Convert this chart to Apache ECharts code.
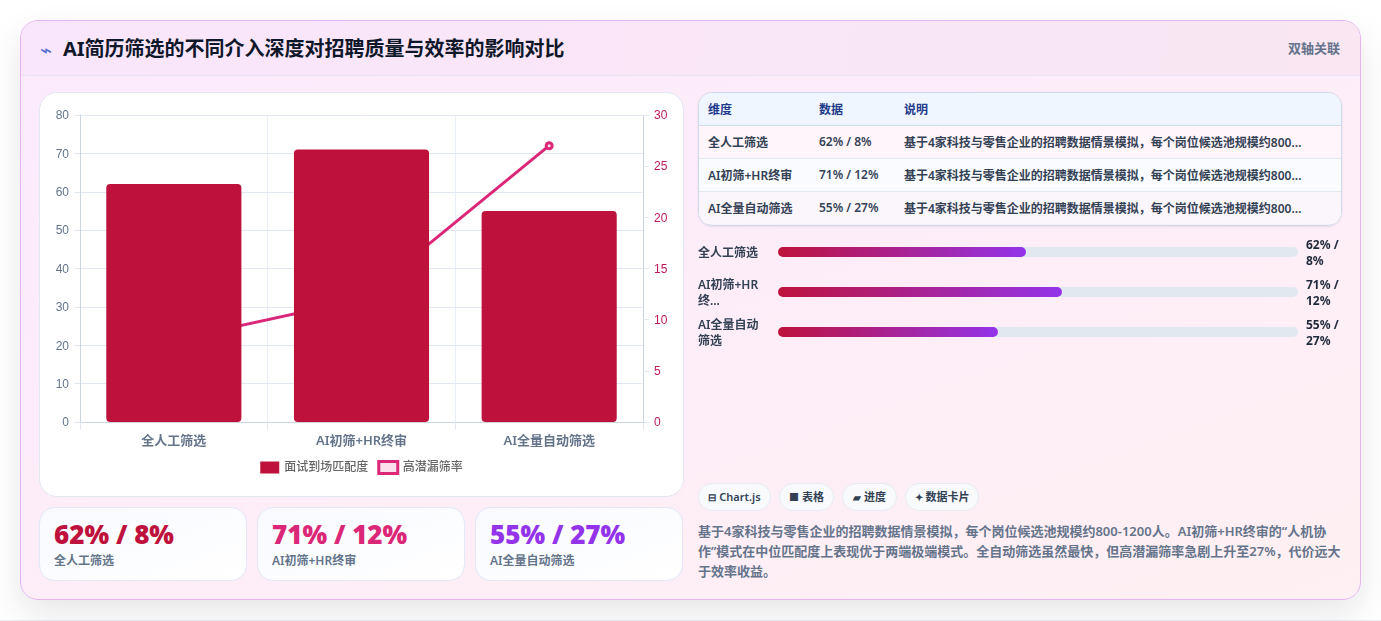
<!DOCTYPE html>
<html lang="zh-CN">
<head>
<meta charset="utf-8">
<title>AI简历筛选对比</title>
<script src="https://cdn.jsdelivr.net/npm/echarts@6/dist/echarts.min.js"></script>
<style>
* { box-sizing: border-box; margin: 0; padding: 0; }
html, body { width: 1381px; height: 621px; overflow: hidden; background: #fff; }
body { font-family: "Noto Sans", "Noto Sans CJK SC", sans-serif; position: relative; }
.abs { position: absolute; }
#page-edge { left: 0; top: 620px; width: 1381px; height: 1px; background: #e8edf4; }
#shell { left: 20px; top: 20px; width: 1341px; height: 580px; border-radius: 18px; border: 1px solid #e6b5f0;
  background: linear-gradient(160deg, #fbeafd 0%, #fff0f3 100%);
  box-shadow: 0 14px 34px rgba(15, 23, 42, .10); overflow: hidden; }
#head { left: 0; top: 0; width: 1339px; height: 55px; background: linear-gradient(100deg, #fae6fc, #f9e6f2);
  border-bottom: 1px solid #e9e3f6; }
#title { left: 42px; top: 13px; font-size: 20px; font-weight: 700; color: #0f172a; line-height: 30px; white-space: nowrap; }
#bolt { left: 19px; top: 14px; font-size: 20px; color: #4f6bd0; line-height: 30px; }
#tag { right: 20px; top: 17px; font-size: 13px; font-weight: 600; color: #64748b; line-height: 20px; }
#panel { left: 39px; top: 92px; width: 645px; height: 405px; background: #fff; border: 1px solid #e2e8f0; border-radius: 18px; }
#combo { left: 0; top: 0; width: 643px; height: 403px; }
.stat { top: 507px; width: 208px; height: 74px; border-radius: 16px; border: 1px solid #e2e8f8;
  background: linear-gradient(160deg, #f8faff, #fff); }
.stat b { position: absolute; left: 14px; top: 8px; font-size: 26px; font-weight: 900; line-height: 36px; white-space: nowrap; }
.stat span { position: absolute; left: 14px; top: 44px; font-size: 12px; font-weight: 600; color: #64748b; line-height: 18px; white-space: nowrap; }
#tbl { left: 698px; top: 92px; width: 644px; height: 134px; border: 1px solid #cfd8ea; border-radius: 14px; overflow: hidden;
  box-shadow: 0 1px 2px rgba(15, 23, 42, .08); }
#tbl table { border-collapse: collapse; width: 100%; table-layout: fixed; font-size: 12px; }
#tbl th { height: 32px; background: #eff6ff; color: #1e3a8a; font-weight: 700; text-align: left; padding-left: 9px; border-bottom: 1px solid #cfdcec; }
#tbl td { height: 33px; color: #334155; font-weight: 600; padding-left: 9px; border-bottom: 1px solid #e2e8f0;
  white-space: nowrap; overflow: hidden; text-overflow: ellipsis; }
#tbl td:last-child { padding-right: 38px; }
#tbl tr:last-child td { border-bottom: 0; }
#tbl tbody tr:nth-child(1) { background: #fff5fb; }
#tbl tbody tr:nth-child(2) { background: #f9fbfe; }
#tbl tbody tr:nth-child(3) { background: #fbf6fc; }
#meters { left: 690px; top: 232px; width: 680px; height: 122px; }
#chips { left: 698px; top: 483px; display: flex; gap: 8px; }
.chip { height: 28px; border-radius: 14px; border: 1px solid #e6ecf4; background: #f8fafc; text-align: center;
  font-size: 11px; font-weight: 600; color: #334155; line-height: 26px; white-space: nowrap; }
.chip:nth-child(1) { width: 73px; }
.chip:nth-child(2) { width: 55px; }
.chip:nth-child(3) { width: 55px; }
.chip:nth-child(4) { width: 74px; }
.chip i { font-style: normal; font-size: 10px; }
#note { left: 698px; top: 521px; width: 644px; font-size: 13px; font-weight: 600; color: #64748b; line-height: 20px; }
</style>
</head>
<body>
<div id="page-edge" class="abs"></div>
<div id="shell" class="abs">
  <div id="head" class="abs">
    <div id="bolt" class="abs">⌁</div>
    <div id="title" class="abs"></div>
    <div id="tag" class="abs"></div>
  </div>
</div>
<div id="panel" class="abs"><div id="combo" class="abs"></div></div>
<div id="stats"></div>
<div id="tbl" class="abs"></div>
<div id="meters" class="abs"></div>
<div id="chips" class="abs"></div>
<div id="note" class="abs"></div>
<script>
// Source figures for the three screening modes
const titleText = 'AI简历筛选的不同介入深度对招聘质量与效率的影响对比';
const tagText = '双轴关联';
const categories = ['全人工筛选', 'AI初筛+HR终审', 'AI全量自动筛选'];
const matchRate = [62, 71, 55];
const missRate = [8, 12, 27];
const seriesNames = ['面试到场匹配度', '高潜漏筛率'];
const statColors = ['#be123c', '#db2777', '#9333ea'];
const meterLabels = ['全人工筛选', 'AI初筛+HR\n终...', 'AI全量自动\n筛选'];
const meterScaleMax = 130;
const noteText = '基于4家科技与零售企业的招聘数据情景模拟，每个岗位候选池规模约800-1200人。AI初筛+HR终审的“人机协作”模式在中位匹配度上表现优于两端极端模式。全自动筛选虽然最快，但高潜漏筛率急剧上升至27%，代价远大于效率收益。';
const tableHeads = ['维度', '数据', '说明'];
const chipIcons = ['⊟', '■', '▰', '✦'];
const chipLabels = ['Chart.js', '表格', '进度', '数据卡片'];

const pairText = i => matchRate[i] + '% / ' + missRate[i] + '%';
const FONT = '"Noto Sans", "Noto Sans CJK SC", sans-serif';

document.getElementById('title').textContent = titleText;
document.getElementById('tag').textContent = tagText;
document.getElementById('note').textContent = noteText;

// Summary cards under the chart
document.getElementById('stats').innerHTML = categories.map((c, i) =>
  `<div class="stat abs" style="left:${39 + i * 218}px"><b style="color:${statColors[i]}">${pairText(i)}</b><span>${c}</span></div>`
).join('');

// Detail table
document.getElementById('tbl').innerHTML =
  '<table><colgroup><col style="width:111px"><col style="width:85px"><col></colgroup><thead><tr>' +
  tableHeads.map(h => `<th>${h}</th>`).join('') + '</tr></thead><tbody>' +
  categories.map((c, i) => `<tr><td>${c}</td><td>${pairText(i)}</td><td>${noteText}</td></tr>`).join('') +
  '</tbody></table>';

document.getElementById('chips').innerHTML = chipLabels.map((t, i) =>
  `<div class="chip"><i>${chipIcons[i]}</i> ${t}</div>`).join('');

// Tick label style that sits one pixel under its tick
const tickRich = color => ({
  formatter: '{t|{value}}',
  margin: 11,
  rich: { t: { color, fontSize: 12, fontFamily: '"Liberation Sans"', padding: [2, 0, 0, 0] } }
});

// Dual-axis combo chart: bars for match rate, line for missed talent
const combo = echarts.init(document.getElementById('combo'), null, { renderer: 'canvas' });
combo.setOption({
  animation: false,
  textStyle: { fontFamily: FONT },
  grid: { left: 40, right: 40, top: 22, bottom: 74, containLabel: false },
  legend: {
    bottom: 16, left: 'center', itemGap: 9, itemWidth: 19, itemHeight: 12,
    textStyle: { color: '#666', fontSize: 12, fontWeight: 500, fontFamily: FONT },
    data: [
      { name: seriesNames[0], icon: 'rect', itemStyle: { color: '#be123c', borderWidth: 0 } },
      { name: seriesNames[1], icon: 'rect', itemStyle: { color: '#fbdfec', borderColor: '#db2777', borderWidth: 3 } }
    ]
  },
  xAxis: {
    type: 'category', data: categories,
    axisLine: { lineStyle: { color: '#cbd5e1' } },
    axisTick: { show: true, length: 8, alignWithLabel: false, lineStyle: { color: '#e2e8f0' } },
    splitLine: { show: true, lineStyle: { color: '#e8eef6' } },
    axisLabel: { color: '#64748b', fontSize: 13, fontWeight: 600, margin: 13 }
  },
  yAxis: [
    {
      type: 'value', min: 0, max: 80, interval: 10, position: 'left',
      axisLine: { show: true, lineStyle: { color: '#cbd5e1' } },
      axisTick: { show: true, length: 6, lineStyle: { color: '#e2e8f0' } },
      splitLine: { show: true, lineStyle: { color: '#e2e8f0' } },
      axisLabel: tickRich('#64748b')
    },
    {
      type: 'value', min: 0, max: 30, interval: 5, position: 'right',
      axisLine: { show: true, lineStyle: { color: '#cbd5e1' } },
      axisTick: { show: true, length: 6, lineStyle: { color: '#e2e8f0' } },
      splitLine: { show: false },
      axisLabel: tickRich('#be185d')
    }
  ],
  series: [
    {
      name: seriesNames[0], type: 'bar', yAxisIndex: 0, data: matchRate, barWidth: '72%', z: 3,
      itemStyle: { color: '#be123c', borderRadius: 4 }
    },
    {
      name: seriesNames[1], type: 'line', yAxisIndex: 1, data: missRate, z: 2,
      lineStyle: { color: '#db2777', width: 3 },
      symbol: 'circle', symbolSize: 6,
      itemStyle: { color: '#fbdfec', borderColor: '#db2777', borderWidth: 3 }
    }
  ]
});

// Progress tracks on the first grid; the text axes live on a second grid two pixels lower
const meters = echarts.init(document.getElementById('meters'), null, { renderer: 'canvas' });
meters.setOption({
  animation: false,
  textStyle: { fontFamily: FONT },
  grid: [
    { left: 88, right: 72, top: 0, height: 120 },
    { left: 88, right: 72, top: 2, height: 120 }
  ],
  xAxis: [
    { type: 'value', gridIndex: 0, min: 0, max: meterScaleMax, show: false },
    { type: 'value', gridIndex: 1, min: 0, max: meterScaleMax, show: false }
  ],
  yAxis: [
    { type: 'category', gridIndex: 0, inverse: true, data: categories, show: false },
    {
      type: 'category', gridIndex: 1, inverse: true, data: meterLabels, position: 'left',
      axisLine: { show: false }, axisTick: { show: false },
      axisLabel: { align: 'left', margin: 80, color: '#334155', fontSize: 12, fontWeight: 600, lineHeight: 16 }
    },
    {
      type: 'category', gridIndex: 1, inverse: true, data: categories.map((c, i) => pairText(i).replace(' / ', ' /\n')), position: 'right',
      axisLine: { show: false }, axisTick: { show: false },
      axisLabel: { align: 'left', margin: 8, color: '#1e293b', fontSize: 12, fontWeight: 700, lineHeight: 16 }
    }
  ],
  series: [{
    type: 'bar', xAxisIndex: 0, yAxisIndex: 0, data: matchRate, barWidth: 10,
    showBackground: true,
    backgroundStyle: { color: '#e2e8f0', borderRadius: 5 },
    itemStyle: {
      borderRadius: 5,
      color: new echarts.graphic.LinearGradient(0, 0, 1, 0, [
        { offset: 0, color: '#be123c' },
        { offset: 1, color: '#9333ea' }
      ])
    }
  }]
});
</script>
</body>
</html>
